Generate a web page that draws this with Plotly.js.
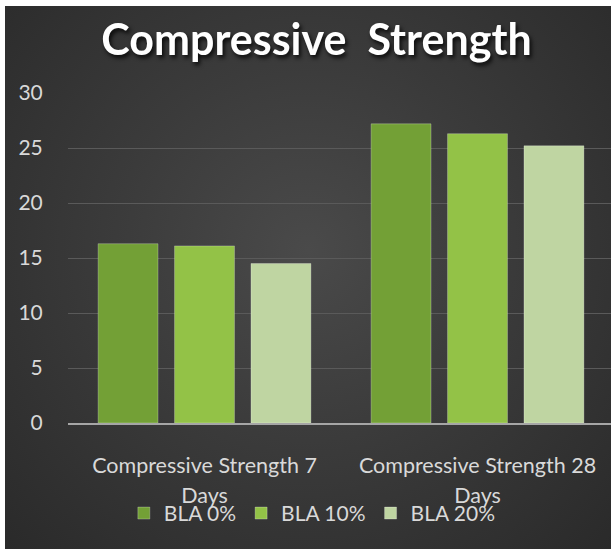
<!DOCTYPE html>
<html>
<head>
<meta charset="utf-8">
<script src="https://cdn.plot.ly/plotly-3.0.1.min.js"></script>
<style>
  html, body { margin: 0; padding: 0; background: #ffffff; width: 611px; height: 549px; overflow: hidden; }
  #chart {
    position: absolute; left: 5px; top: 6px; width: 606px; height: 543px;
    background: radial-gradient(ellipse at 50% 45%, #4a4a4a 0%, #3b3b3b 45%, #2a2a2a 100%);
  }
  #chart .gtitle { filter: drop-shadow(2px 3px 2px rgba(0,0,0,0.8)); }
</style>
</head>
<body>
<div id="chart"></div>
<script>
const categories = ["Compressive Strength 7 Days", "Compressive Strength 28 Days"];
const tickLine1 = ["Compressive Strength 7", "Compressive Strength 28"];
const tickLine2 = ["Days", "Days"];
const seriesNames = ["BLA 0%", "BLA 10%", "BLA 20%"];
const bla0 = [16.3, 27.2];
const bla10 = [16.1, 26.3];
const bla20 = [14.5, 25.2];
const seriesColors = ["#73a036", "#93c247", "#bfd5a2"];
const yTicks = [0, 5, 10, 15, 20, 25, 30];

const FONT = "Lato, 'Open Sans', sans-serif";
const values = [bla0, bla10, bla20];

const traces = values.map((v, i) => ({
  type: "bar",
  name: seriesNames[i],
  x: categories,
  y: v,
  marker: { color: seriesColors[i], line: { color: "rgba(255,255,255,0.25)", width: 1 } },
  hoverinfo: "skip"
}));

// invisible trace to carry the second line of the category labels
traces.push({
  type: "scatter", mode: "none", x: categories, y: [0, 0],
  xaxis: "x2", yaxis: "y", showlegend: false, hoverinfo: "skip"
});

const layout = {
  width: 606, height: 543,
  margin: { l: 63, r: 0, t: 87, b: 126 },
  paper_bgcolor: "rgba(0,0,0,0)",
  plot_bgcolor: "rgba(0,0,0,0)",
  title: {
    text: "Compressive\u00a0 Strength",
    font: { family: FONT, size: 43, color: "#ffffff", weight: "bold" },
    x: 0.514, xanchor: "center", y: 0.937, yanchor: "middle"
  },
  barmode: "group",
  bargap: 0.16,
  bargroupgap: 0.216,
  xaxis: {
    type: "category",
    range: [-0.5, 1.489],
    tickvals: categories,
    ticktext: tickLine1,
    ticks: "outside", ticklen: 22, tickcolor: "rgba(0,0,0,0)",
    tickfont: { family: FONT, size: 21.5, color: "#d9d9d9" },
    showgrid: false,
    showline: true, linecolor: "#a6a6a6", linewidth: 2,
    zeroline: false,
    fixedrange: true
  },
  xaxis2: {
    type: "category",
    overlaying: "x", matches: "x", anchor: "y", side: "bottom",
    range: [-0.5, 1.489],
    tickvals: categories,
    ticktext: tickLine2,
    ticks: "outside", ticklen: 53, tickcolor: "rgba(0,0,0,0)",
    tickfont: { family: FONT, size: 21.5, color: "#d9d9d9" },
    showgrid: false, showline: false, zeroline: false
  },
  yaxis: {
    range: [0, 30],
    tickvals: yTicks,
    ticks: "outside", ticklen: 20, tickcolor: "rgba(0,0,0,0)",
    tickfont: { family: FONT, size: 21, color: "#d9d9d9" },
    showgrid: true, gridcolor: "#5a5a5a", gridwidth: 1,
    zeroline: false, showline: false,
    fixedrange: true
  },
  showlegend: true,
  legend: {
    orientation: "h",
    x: 0.45, xanchor: "center",
    y: -0.274, yanchor: "middle",
    font: { family: FONT, size: 21, color: "#d9d9d9" },
    bgcolor: "rgba(0,0,0,0)",
    itemwidth: 30,
    traceorder: "normal"
  }
};

Plotly.newPlot("chart", traces, layout, { displayModeBar: false, staticPlot: true });
</script>
</body>
</html>
